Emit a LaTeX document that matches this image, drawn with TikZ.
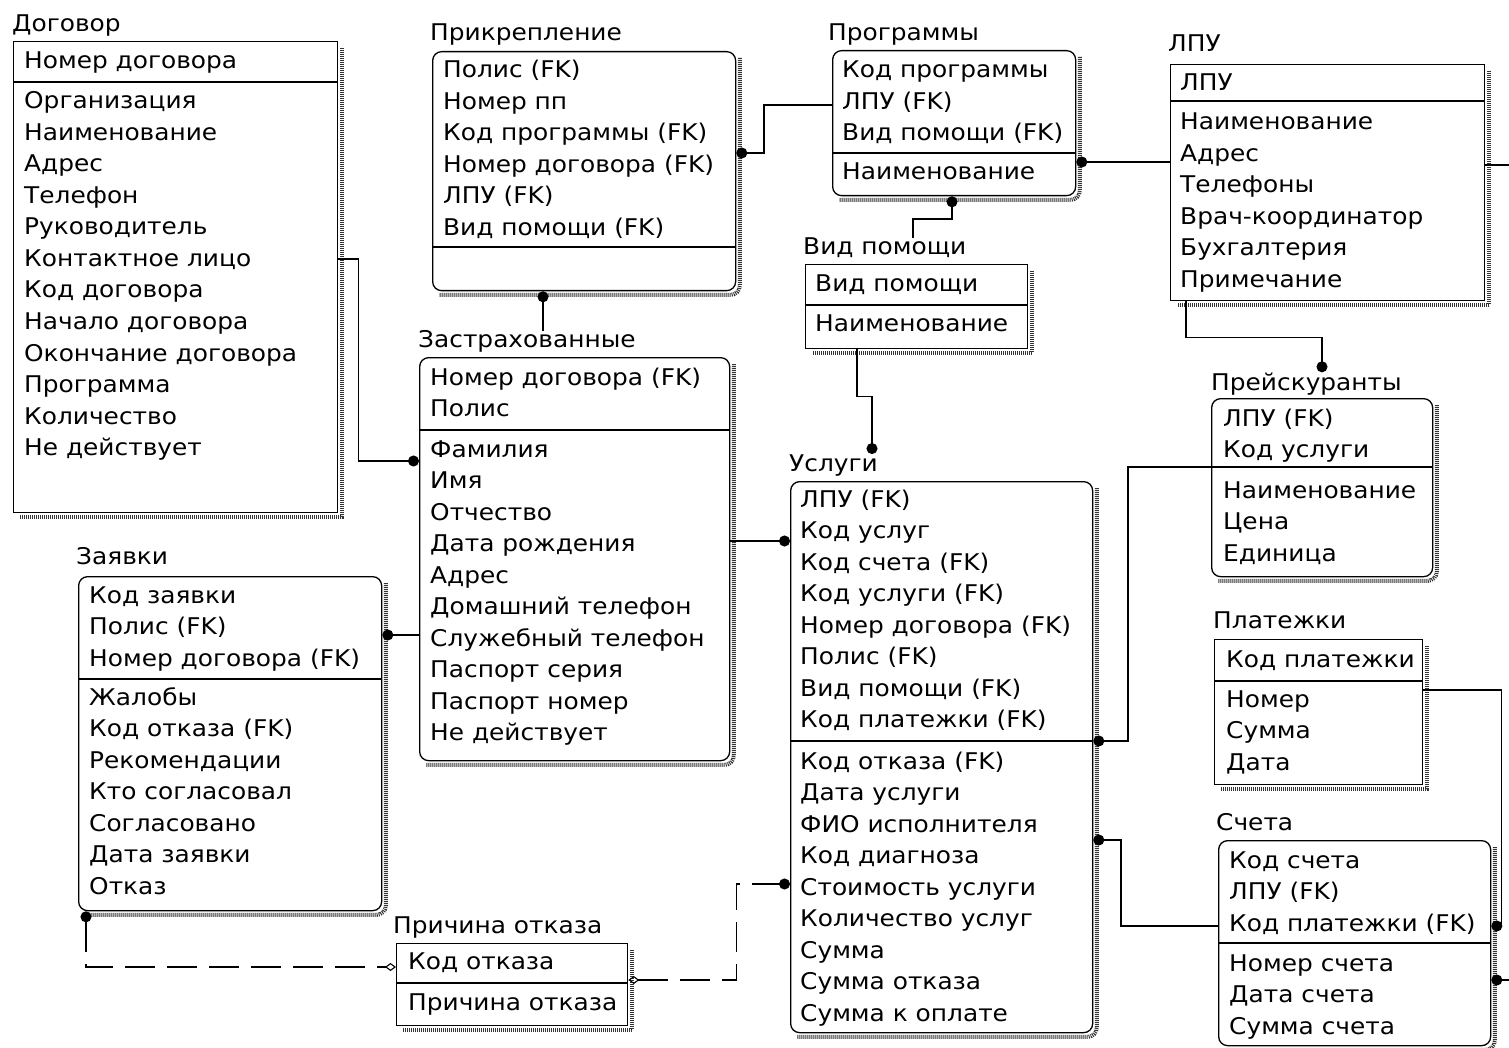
\documentclass[tikz,border=0pt]{standalone}
\usepackage{fontspec}
\setmainfont{DejaVu Sans}[FakeStretch=1.08]
\usetikzlibrary{arrows.meta}

\newcommand\attrs[4]{\foreach \t [count=\i] in {#4} {\node[attr] (#1\i) at (#2,{#3+8+(\i-1)*31.5}) {\t};}}
\newcommand\entshadow[2][]{\draw[shd,#1] ([xshift=3.5pt,yshift=-7pt]#2.north east) |- ([xshift=7pt,yshift=-3.5pt]#2.south west);}

\begin{document}
\begin{tikzpicture}[x=1pt,y=-1pt,
  every node/.style={inner sep=0pt,font=\fontsize{23}{28}\selectfont},
  ttl/.style={anchor=base west},
  attr/.style={anchor=base west},
  ent/.style={draw,line width=1.3pt,anchor=north west},
  dep/.style={ent,rounded corners=9pt},
  sep/.style={line width=1.3pt},
  shd/.style={line width=4pt,black!80,dash pattern=on 1pt off 1pt},
  rel/.style={line width=1.1pt,-{Circle[length=11pt]}},
  nrel/.style={line width=1.1pt,dash pattern=on 30pt off 12pt}]
\fill[white] (0,0) rectangle (1509,1048);
\useasboundingbox (0,0) rectangle (1509,1048);

\node[ttl] (dog-t) at (12,32) {Договор};
\node[ent,minimum width=324pt,minimum height=471pt] (dog) at (13,41) {};
\entshadow{dog}
\attrs{dogk}{24}{61}{Номер договора}
\draw[sep] (dog.west |- 0,82) -- (dog.east |- 0,82);
\attrs{doga}{24}{101}{Организация,Наименование,Адрес,Телефон,Руководитель,Контактное лицо,Код договора,Начало договора,Окончание договора,Программа,Количество,Не действует}

\node[ttl] (prk-t) at (430,41) {Прикрепление};
\node[dep,minimum width=303pt,minimum height=239pt] (prk) at (432,51) {};
\entshadow[rounded corners=9pt]{prk}
\attrs{prkk}{443}{70}{Полис (FK),Номер пп,Код программы (FK),Номер договора (FK),ЛПУ (FK),Вид помощи (FK)}
\draw[sep] (prk.west |- 0,247) -- (prk.east |- 0,247);

\node[ttl] (prg-t) at (828,41) {Программы};
\node[dep,minimum width=243pt,minimum height=145pt] (prg) at (832,50) {};
\entshadow[rounded corners=9pt]{prg}
\attrs{prgk}{842}{70}{Код программы,ЛПУ (FK),Вид помощи (FK)}
\draw[sep] (prg.west |- 0,153) -- (prg.east |- 0,153);
\attrs{prga}{842}{172}{Наименование}

\node[ttl] (lpu-t) at (1168,52) {ЛПУ};
\node[ent,minimum width=314pt,minimum height=236pt] (lpu) at (1170,64) {};
\entshadow{lpu}
\attrs{lpuk}{1180}{83}{ЛПУ}
\draw[sep] (lpu.west |- 0,101) -- (lpu.east |- 0,101);
\attrs{lpua}{1180}{122}{Наименование,Адрес,Телефоны,Врач-координатор,Бухгалтерия,Примечание}

\node[ttl] (vid-t) at (803,255) {Вид помощи};
\node[ent,minimum width=222pt,minimum height=84pt] (vid) at (805,264) {};
\entshadow{vid}
\attrs{vidk}{815}{284}{Вид помощи}
\draw[sep] (vid.west |- 0,305) -- (vid.east |- 0,305);
\attrs{vida}{815}{324}{Наименование}

\node[ttl] (zas-t) at (418,348) {Застрахованные};
\node[dep,minimum width=310pt,minimum height=403pt] (zas) at (419,357) {};
\entshadow[rounded corners=9pt]{zas}
\attrs{zask}{430}{377}{Номер договора (FK),Полис}
\draw[sep] (zas.west |- 0,430) -- (zas.east |- 0,430);
\attrs{zasa}{430}{449}{Фамилия,Имя,Отчество,Дата рождения,Адрес,Домашний телефон,Служебный телефон,Паспорт серия,Паспорт номер,Не действует}

\node[ttl] (zay-t) at (76,564) {Заявки};
\node[dep,minimum width=303pt,minimum height=334pt] (zay) at (78,576) {};
\entshadow[rounded corners=9pt]{zay}
\attrs{zayk}{89}{595}{Код заявки,Полис (FK),Номер договора (FK)}
\draw[sep] (zay.west |- 0,679) -- (zay.east |- 0,679);
\attrs{zaya}{89}{697}{Жалобы,Код отказа (FK),Рекомендации,Кто согласовал,Согласовано,Дата заявки,Отказ}

\node[ttl] (prc-t) at (393,933) {Причина отказа};
\node[ent,minimum width=231pt,minimum height=82pt] (prc) at (396,943) {};
\entshadow{prc}
\attrs{prck}{408}{961}{Код отказа}
\draw[sep] (prc.west |- 0,983) -- (prc.east |- 0,983);
\attrs{prca}{408}{1002}{Причина отказа}

\node[ttl] (usl-t) at (789,471) {Услуги};
\node[dep,minimum width=302pt,minimum height=551pt] (usl) at (790,481) {};
\entshadow[rounded corners=9pt]{usl}
\attrs{uslk}{800}{499}{ЛПУ (FK),Код услуг,Код счета (FK),Код услуги (FK),Номер договора (FK),Полис (FK),Вид помощи (FK),Код платежки (FK)}
\draw[sep] (usl.west |- 0,741) -- (usl.east |- 0,741);
\attrs{usla}{800}{761}{Код отказа (FK),Дата услуги,ФИО исполнителя,Код диагноза,Стоимость услуги,Количество услуг,Сумма,Сумма отказа,Сумма к оплате}

\node[ttl] (pre-t) at (1211,390) {Прейскуранты};
\node[dep,minimum width=221pt,minimum height=178pt] (pre) at (1211,398) {};
\entshadow[rounded corners=9pt]{pre}
\attrs{prek}{1223}{418}{ЛПУ (FK),Код услуги}
\draw[sep] (pre.west |- 0,467) -- (pre.east |- 0,467);
\attrs{prea}{1223}{490}{Наименование,Цена,Единица}

\node[ttl] (pla-t) at (1213,628) {Платежки};
\node[ent,minimum width=208pt,minimum height=145pt] (pla) at (1214,639) {};
\entshadow{pla}
\attrs{plak}{1226}{659}{Код платежки}
\draw[sep] (pla.west |- 0,681) -- (pla.east |- 0,681);
\attrs{plaa}{1226}{699}{Номер,Сумма,Дата}

\node[ttl] (sch-t) at (1216,830) {Счета};
\node[dep,minimum width=272pt,minimum height=205pt] (sch) at (1218,840) {};
\entshadow[rounded corners=9pt]{sch}
\attrs{schk}{1229}{860}{Код счета,ЛПУ (FK),Код платежки (FK)}
\draw[sep] (sch.west |- 0,943) -- (sch.east |- 0,943);
\attrs{scha}{1229}{963}{Номер счета,Дата счета,Сумма счета}

\coordinate (lpu-out) at (1515,165);
\coordinate (sch-out) at (1515,980);

\draw[rel] (dog.east |- 0,259) -- ++(20,0) |- (zas.west |- 0,461);
\draw[rel] (zas-t.north -| 543,0) -- (prk.south -| 543,0);
\draw[rel] (prg.west |- 0,105) -- ++(-68,0) |- (prk.east |- 0,153);
\draw[rel] (lpu.west |- 0,162) -- (prg.east |- 0,162);
\draw[rel] (vid-t.north -| 913,0) -- ++(0,-19) -| (prg.south -| 952,0);
\draw[rel] (vid.south -| 857,0) -- ++(0,47) -| (usl-t.north -| 872,0);
\draw[rel] (lpu.south -| 1186,0) -- ++(0,36) -| (pre-t.north -| 1322,0);
\draw[rel] (zas.east |- 0,541) -- (usl.west |- 0,541);
\draw[rel] (zas.west |- 0,635) -- (zay.east |- 0,635);
\draw[rel] (pre.west |- 0,467) -- ++(-83,0) |- (usl.east |- 0,741);
\draw[rel] (sch.west |- 0,926) -- ++(-97,0) |- (usl.east |- 0,840);
\draw[rel] (pla.east |- 0,690) -- ++(78,0) |- (sch.east |- 0,926);
\draw[line width=1.1pt] (lpu.east |- 0,165) -- (lpu-out);
\draw[rel] (sch-out) -- (sch.east |- 0,980);
\draw[nrel,{Circle[length=11pt]}-{Diamond[open,length=11pt,width=8pt]}] ([xshift=8pt]zay.south west) |- (prc.west |- 0,967);
\draw[nrel,{Diamond[open,length=11pt,width=8pt]}-{Circle[length=11pt]}] (prc.east |- 0,980) -- ++(108,0) |- (usl.west |- 0,884);
\end{tikzpicture}
\end{document}
